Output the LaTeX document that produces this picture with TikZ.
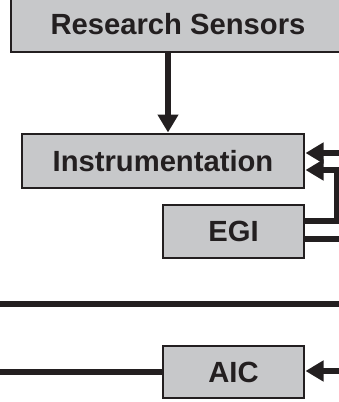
\documentclass[tikz,border=0pt]{standalone}
\usepackage{fontspec}
\setmainfont{Liberation Sans}
\usetikzlibrary{arrows.meta}
\definecolor{ink}{HTML}{231F20}
\definecolor{boxgray}{HTML}{C7C8CA}
\tikzset{
  blk/.style={draw=ink, fill=boxgray, line width=1.5pt, inner sep=0pt,
    font=\fontsize{29.2}{31}\selectfont\bfseries, text=ink,
    text height=20.9pt, text depth=0pt, align=center},
  wire/.style={draw=ink, line width=6pt},
  arr/.style={wire, -{Triangle[length=18pt,width=20pt]}},
}
\begin{document}
\begin{tikzpicture}[x=1pt,y=1pt]
\useasboundingbox (0,0) rectangle (339,-402);
\clip (0,0) rectangle (339,-402);
% boxes
\node[blk, minimum width=334pt, minimum height=56pt] (rs) at (178,-24) {Research Sensors};
\node[blk, minimum width=282pt, minimum height=54pt] (inst) at (163,-161) {Instrumentation};
\node[blk, minimum width=141pt, minimum height=53pt] (egi) at (233.5,-231.5) {EGI};
\node[blk, minimum width=141pt, minimum height=52pt] (aic) at (233.5,-372) {AIC};
% helper coordinates
\coordinate (c1) at (168,0);
\coordinate (in1) at (350,-153);
\coordinate (in2) at (337,-170);
\coordinate (e1) at (337,-221);
\coordinate (e2) at (350,-239);
\coordinate (h1) at (-10,-304);
\coordinate (h2) at (350,-304);
\coordinate (a1) at (-10,-372);
\coordinate (a2) at (350,-371);
% connectors
\draw[arr] (rs.south -| c1) -- ([yshift=0.75pt]inst.north -| c1);
\draw[arr] (in1) -- ([xshift=0.75pt]in1 -| inst.east);
\draw[arr] (e1 -| egi.east) -- (e1) -- (in2) -- ([xshift=0.75pt]in2 -| inst.east);
\draw[wire] (e2 -| egi.east) -- (e2);
\draw[wire] (h1) -- (h2);
\draw[wire] (a1) -- (a1 -| aic.west);
\draw[arr] (a2) -- ([xshift=0.75pt]a2 -| aic.east);
\end{tikzpicture}
\end{document}
